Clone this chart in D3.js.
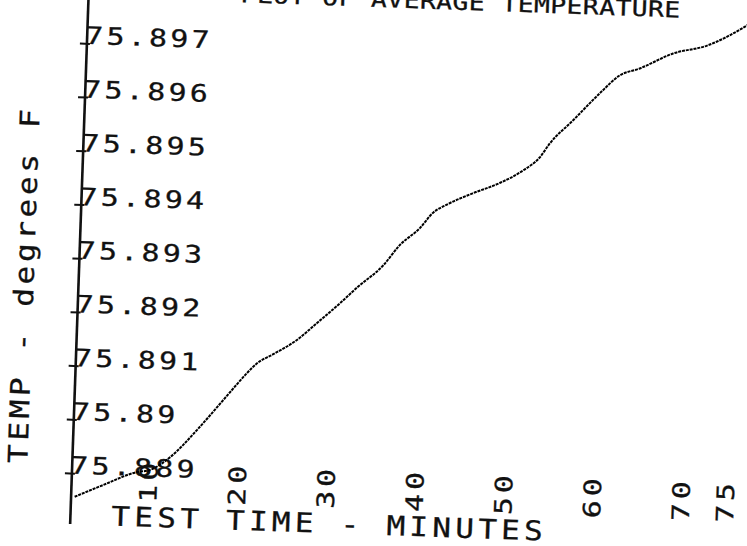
<!DOCTYPE html>
<html>
<head>
<meta charset="utf-8">
<script src="https://cdn.jsdelivr.net/npm/d3@7/dist/d3.min.js"></script>
<style>
  html, body { margin: 0; padding: 0; background: #fff; }
  svg { display: block; }
  text {
    font-family: "DejaVu Sans Mono", "Liberation Mono", monospace;
    fill: #111;
    stroke: #111;
    stroke-width: 0.3;
    font-variant-numeric: slashed-zero;
  }
</style>
</head>
<body>
<svg id="chart" width="747" height="546"></svg>
<script>
// ---- data ----
const chartTitle = "PLOT OF AVERAGE TEMPERATURE";
const xTitle = "TEST TIME - MINUTES";
const yTitle = "TEMP - degrees F";

const timeMinutes = [0.4, 3.6, 7.3, 8.8, 11.0, 13.9, 15.6, 17.5, 19.3, 20.4, 22.2,
  24.8, 27.0, 29.5, 31.4, 34.2, 36.0, 38.2, 39.6, 41.2, 44.0, 47.0, 49.6, 51.4,
  52.5, 55.0, 57.9, 60.1, 62.3, 66.0, 69.8, 74.2, 75.0];
const avgTempF = [75.88856, 75.88880, 75.88906, 75.88911, 75.88936, 75.88988,
  75.89022, 75.89061, 75.89097, 75.89116, 75.89134, 75.89162, 75.89195, 75.89233,
  75.89264, 75.89306, 75.89345, 75.89378, 75.89407, 75.89424, 75.89446, 75.89467,
  75.89492, 75.89517, 75.89544, 75.89588, 75.89640, 75.89675, 75.89689, 75.89719,
  75.89736, 75.89776, 75.89785];

const yTickValues = [75.889, 75.890, 75.891, 75.892, 75.893, 75.894, 75.895, 75.896, 75.897];
const yTickLabels = ["75.889", "75.89", "75.891", "75.892", "75.893", "75.894", "75.895", "75.896", "75.897"];
const xTickValues = [10, 20, 30, 40, 50, 60, 70, 75];

// ---- layout ----
const svg = d3.select("#chart");
// the whole plotter sheet sits a little skewed on the page
const sheet = svg.append("g").attr("transform", "rotate(2,70,528)");

const x = d3.scaleLinear().domain([0, 75]).range([70, 736]);
const y = d3.scaleLinear().domain([75.889, 75.897]).range([473, 43]);

// wide plotter-style lettering: monospace glyphs stretched horizontally
function plotText(g, str, px, py, opts) {
  const o = Object.assign({ rot: 0, size: 24, sx: 1.25, ls: 0, anchor: "start" }, opts);
  return g.append("text")
    .attr("transform", `translate(${px},${py}) rotate(${o.rot}) scale(${o.sx},1)`)
    .attr("font-size", o.size)
    .attr("letter-spacing", o.ls)
    .attr("text-anchor", o.anchor)
    .text(str);
}

// ---- y axis ----
const yAxis = d3.axisLeft(y)
  .tickValues(yTickValues)
  .tickFormat((d, i) => yTickLabels[i])
  .tickSizeInner(7)
  .tickSizeOuter(0)
  .tickPadding(0);

const gy = sheet.append("g")
  .attr("transform", `translate(${x(0)},0)`)
  .attr("font-family", null)
  .call(yAxis);
gy.select(".domain").remove();
gy.selectAll(".tick line")
  .attr("x1", 3).attr("x2", -7)
  .attr("stroke", "#111").attr("stroke-width", 2);
gy.selectAll(".tick text")
  .attr("x", null).attr("dy", null)
  .attr("text-anchor", "start")
  .attr("font-size", 24)
  .attr("letter-spacing", 2.6)
  .attr("transform", "translate(-2,0) scale(1.25,1)");

sheet.append("line")
  .attr("x1", x(0)).attr("x2", x(0))
  .attr("y1", -14).attr("y2", 524)
  .attr("stroke", "#111").attr("stroke-width", 2.6);

// ---- x axis (labels only, turned on end) ----
const xAxis = d3.axisBottom(x)
  .tickValues(xTickValues)
  .tickSize(0)
  .tickPadding(0)
  .tickFormat(d3.format("d"));

const gx = sheet.append("g")
  .attr("transform", "translate(0,478)")
  .attr("font-family", null)
  .call(xAxis);
gx.select(".domain").remove();
gx.selectAll(".tick text")
  .attr("y", null).attr("dy", null)
  .attr("text-anchor", "middle")
  .attr("font-size", 24)
  .attr("letter-spacing", 3.1)
  .attr("transform", "rotate(-90) translate(0,-4) scale(1.25,1)");

// ---- temperature trace ----
const pts = timeMinutes.map((t, i) => ({ t, v: avgTempF[i] }));
const line = d3.line()
  .x(d => x(d.t))
  .y(d => y(d.v))
  .curve(d3.curveMonotoneX);

sheet.append("path")
  .datum(pts)
  .attr("d", line)
  .attr("fill", "none")
  .attr("stroke", "#000")
  .attr("stroke-width", 2)
  .attr("stroke-dasharray", "3,0.9")
  .attr("stroke-linejoin", "round");

// ---- titles ----
plotText(sheet, chartTitle, 222, -3.5, { size: 22, sx: 1.2, ls: 0.35 });
plotText(sheet, xTitle, 111, 524, { size: 27, sx: 1.15, ls: 3.7 });
plotText(sheet, yTitle, 25, 465, { rot: -90, size: 27, sx: 1.15, ls: 3.2 });
</script>
</body>
</html>
